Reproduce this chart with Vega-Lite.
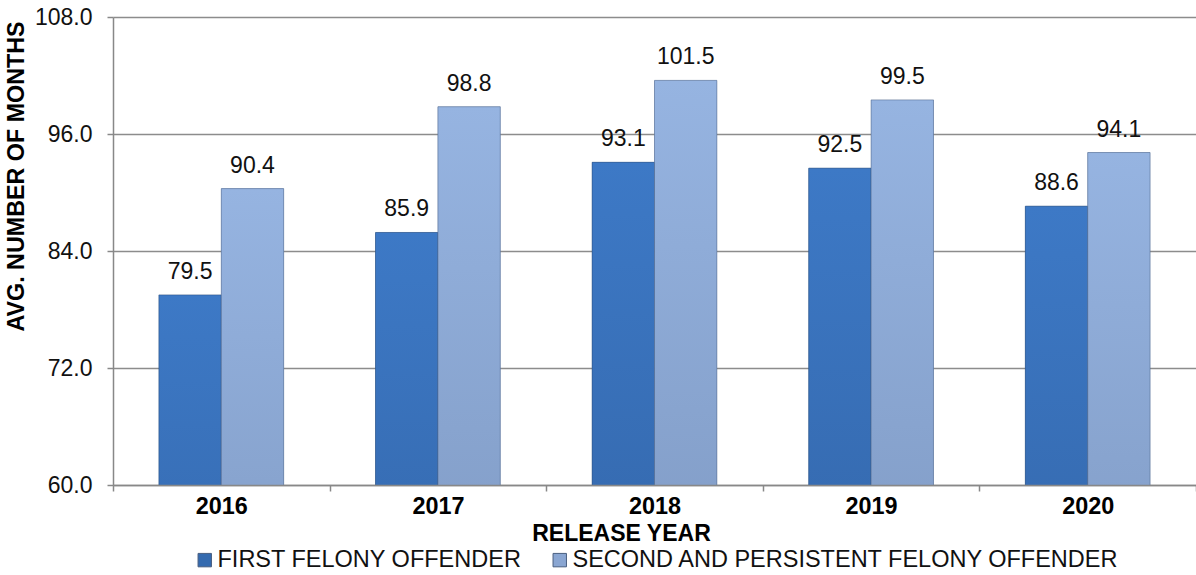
{
  "$schema": "https://vega.github.io/schema/vega-lite/v6.json",
  "autosize": "none",
  "padding": {"left": 113, "top": 17, "right": 0, "bottom": 90},
  "width": 1083,
  "height": 468,
  "background": "white",
  "config": {
    "font": "Liberation Sans",
    "view": {"stroke": null}
  },
  "data": {
    "values": [
      {"year": "2016", "series": "FIRST FELONY OFFENDER", "value": 79.5},
      {"year": "2016", "series": "SECOND AND PERSISTENT FELONY OFFENDER", "value": 90.4},
      {"year": "2017", "series": "FIRST FELONY OFFENDER", "value": 85.9},
      {"year": "2017", "series": "SECOND AND PERSISTENT FELONY OFFENDER", "value": 98.8},
      {"year": "2018", "series": "FIRST FELONY OFFENDER", "value": 93.1},
      {"year": "2018", "series": "SECOND AND PERSISTENT FELONY OFFENDER", "value": 101.5},
      {"year": "2019", "series": "FIRST FELONY OFFENDER", "value": 92.5},
      {"year": "2019", "series": "SECOND AND PERSISTENT FELONY OFFENDER", "value": 99.5},
      {"year": "2020", "series": "FIRST FELONY OFFENDER", "value": 88.6},
      {"year": "2020", "series": "SECOND AND PERSISTENT FELONY OFFENDER", "value": 94.1}
    ]
  },
  "encoding": {
    "x": {
      "field": "year", "type": "nominal",
      "scale": {"paddingInner": 0, "paddingOuter": 0},
      "axis": {
        "title": "RELEASE YEAR",
        "titleFontSize": 23, "titleFontWeight": "bold", "titleColor": "#000",
        "titlePadding": 5, "titleX": 508,
        "labelAngle": 0, "labelFontSize": 23.4, "labelFontWeight": "bold", "labelColor": "#000",
        "labelPadding": 4,
        "tickBand": "extent", "tickSize": 6, "tickColor": "#888", "tickWidth": 1.5,
        "domainColor": "#888", "domainWidth": 1.5,
        "grid": false, "zindex": 1
      }
    },
    "xOffset": {"field": "series", "type": "nominal", "scale": {"paddingInner": 0, "paddingOuter": 0.736}},
    "y": {
      "field": "value", "type": "quantitative",
      "scale": {"domain": [60, 108], "nice": false, "zero": false},
      "axis": {
        "title": "AVG. NUMBER OF MONTHS",
        "titleFontSize": 23.3, "titleFontWeight": "bold", "titleColor": "#000",
        "titlePadding": 6, "titleY": 159,
        "values": [60, 72, 84, 96, 108], "format": ".1f",
        "labelFontSize": 23, "labelColor": "#111", "labelPadding": 15,
        "tickSize": 6, "tickColor": "#888", "tickWidth": 1.5,
        "domainColor": "#888", "domainWidth": 1.5,
        "grid": true, "gridColor": "#8c8c8c", "gridWidth": 1.5
      }
    }
  },
  "layer": [
    {
      "mark": {"type": "bar", "clip": true},
      "encoding": {
        "color": {
          "field": "series", "type": "nominal",
          "scale": {
            "domain": ["FIRST FELONY OFFENDER", "SECOND AND PERSISTENT FELONY OFFENDER"],
            "range": ["#346aaf", "#8aa6d2"]
          },
          "legend": {
            "title": null, "orient": "none", "direction": "horizontal",
            "legendX": 80, "legendY": 531,
            "symbolType": "square", "symbolSize": 180, "symbolStrokeWidth": 1, "symbolStrokeColor": "#4a5f80",
            "labelFontSize": 23.5, "labelColor": "#111", "labelLimit": 800, "labelOffset": 1,
            "columnPadding": 26
          }
        }
      }
    },
    {
      "transform": [{"filter": "datum.series == 'FIRST FELONY OFFENDER'"}],
      "mark": {
        "type": "bar", "clip": true, "stroke": "#2a4f80", "strokeWidth": 0.8, "strokeOpacity": 0.7,
        "color": {"gradient": "linear", "x1": 0, "y1": 0, "x2": 0, "y2": 1, "stops": [{"offset": 0, "color": "#3d79c6"}, {"offset": 1, "color": "#2a5590"}]}
      }
    },
    {
      "transform": [{"filter": "datum.series == 'SECOND AND PERSISTENT FELONY OFFENDER'"}],
      "mark": {
        "type": "bar", "clip": true, "stroke": "#4f668c", "strokeWidth": 0.8, "strokeOpacity": 0.7,
        "color": {"gradient": "linear", "x1": 0, "y1": 0, "x2": 0, "y2": 1, "stops": [{"offset": 0, "color": "#96b4e1"}, {"offset": 1, "color": "#6c84ab"}]}
      }
    },
    {
      "mark": {"type": "text", "baseline": "alphabetic", "dy": -16, "fontSize": 23, "color": "#111"},
      "encoding": {
        "text": {"field": "value", "type": "quantitative", "format": ".1f"}
      }
    }
  ]
}
